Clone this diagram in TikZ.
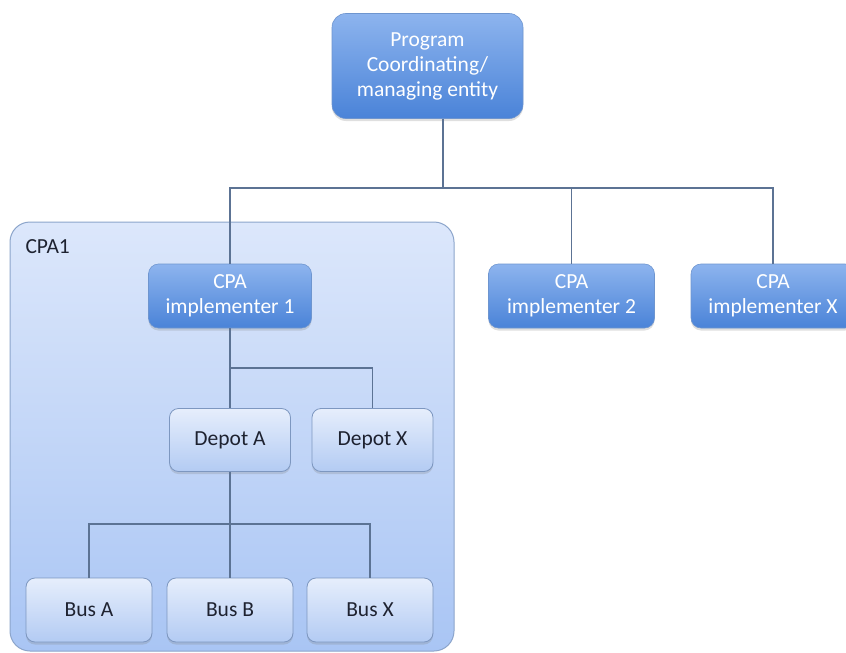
\documentclass[tikz,border=0pt]{standalone}
\usepackage{fontspec}
\setmainfont{Carlito}
\usetikzlibrary{shadows}
\definecolor{linec}{HTML}{5C7394}
\definecolor{darktop}{HTML}{8DB4EE}
\definecolor{darkbot}{HTML}{4A83D8}
\definecolor{darkedge}{HTML}{6E95CF}
\definecolor{lighttop}{HTML}{E6EEFC}
\definecolor{lightbot}{HTML}{B3CBF3}
\definecolor{lightedge}{HTML}{7D97C0}
\definecolor{grouptop}{HTML}{DCE7FB}
\definecolor{groupbot}{HTML}{A9C5F4}
\definecolor{groupedge}{HTML}{8CA5CB}
\definecolor{textdark}{HTML}{1E2230}
\tikzset{
  conn/.style={draw=linec, line width=1.1pt},
  boxfont/.style={font=\fontsize{21.5}{25}\selectfont},
  darkbox/.style={draw=darkedge, line width=0.6pt, rounded corners=10pt,
    top color=darktop, bottom color=darkbot, text=white, align=center,
    boxfont, inner sep=0pt,
    drop shadow={shadow xshift=0pt, shadow yshift=-2.5pt, opacity=0.25}},
  lightbox/.style={draw=lightedge, line width=0.8pt, rounded corners=9pt,
    top color=lighttop, bottom color=lightbot, text=textdark, align=center,
    boxfont, inner sep=0pt,
    drop shadow={shadow xshift=0pt, shadow yshift=-2.5pt, opacity=0.25}},
}
\begin{document}
\begin{tikzpicture}[x=1pt, y=-1pt]
\useasboundingbox (0,0) rectangle (846,653);
\clip (0,0) rectangle (846,653);
\fill[white] (0,0) rectangle (846,653);

% CPA1 group panel
\draw[draw=groupedge, line width=1pt, rounded corners=20pt,
  top color=grouptop, bottom color=groupbot]
  (10,222) rectangle (454,651);
\node[anchor=west, text=textdark, boxfont] (cpa1) at (22,247) {CPA1};

% nodes
\node[darkbox, minimum width=191pt, minimum height=105pt, rounded corners=14pt] (prog) at (427.5,66)
  {Program\\Coordinating/\\managing entity};
\node[darkbox, minimum width=163pt, minimum height=64pt] (imp1) at (230,296) {CPA\\implementer 1};
\node[darkbox, minimum width=166pt, minimum height=64pt] (imp2) at (571.5,296) {CPA\\implementer 2};
\node[darkbox, minimum width=164pt, minimum height=64pt] (impx) at (773,296) {CPA\\implementer X};

\node[lightbox, minimum width=121pt, minimum height=63pt] (depa) at (230,440) {Depot A};
\node[lightbox, minimum width=121pt, minimum height=63pt] (depx) at (372.5,440) {Depot X};

\node[lightbox, minimum width=126pt, minimum height=64pt] (busa) at (89,610) {Bus A};
\node[lightbox, minimum width=126pt, minimum height=64pt] (busb) at (230,610) {Bus B};
\node[lightbox, minimum width=126pt, minimum height=64pt] (busx) at (370,610) {Bus X};

% branch points
\coordinate (top) at (443,188);
\coordinate (mid) at (230,368);
\coordinate (low) at (230,524);

% connectors
\draw[conn] (prog.south -| top) -- (top);
\draw[conn] (top) -- (top -| imp1) -- (imp1.north);
\draw[conn] (top) -- (top -| imp2) -- (imp2.north);
\draw[conn] (top) -- (top -| impx) -- (impx.north);

\draw[conn] (imp1.south) -- (mid) -- (mid -| depx) -- (depx.north);
\draw[conn] (mid) -- (depa.north);

\draw[conn] (depa.south) -- (low) -- (busb.north);
\draw[conn] (low) -- (low -| busa) -- (busa.north);
\draw[conn] (low) -- (low -| busx) -- (busx.north);
\end{tikzpicture}
\end{document}
